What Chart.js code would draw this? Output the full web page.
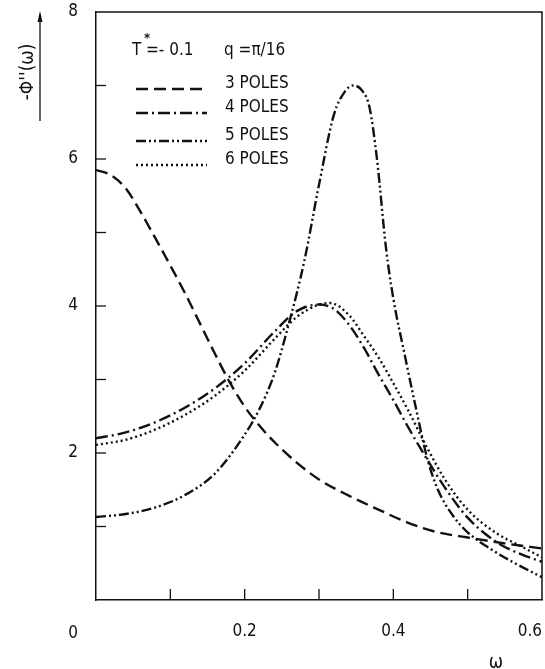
<!DOCTYPE html>
<html>
<head>
<meta charset="utf-8">
<script src="https://cdn.jsdelivr.net/npm/chart.js@4/dist/chart.umd.min.js"></script>
<style>
  html, body { margin: 0; padding: 0; background: #fff; }
</style>
</head>
<body>
<canvas id="chart" width="545" height="669"></canvas>
<script>
// curves (omega, -Phi''(omega))
const omega3 = [0, 0.02, 0.04, 0.06, 0.08, 0.10, 0.12, 0.14, 0.16, 0.18, 0.20, 0.22, 0.24, 0.27, 0.30, 0.34, 0.38, 0.42, 0.46, 0.50, 0.55, 0.60];
const poles3 = [5.85, 5.78, 5.60, 5.28, 4.92, 4.55, 4.17, 3.76, 3.35, 2.96, 2.63, 2.37, 2.15, 1.87, 1.64, 1.42, 1.23, 1.05, 0.92, 0.85, 0.77, 0.70];

const omega4 = [0, 0.04, 0.08, 0.12, 0.16, 0.20, 0.24, 0.27, 0.30, 0.32, 0.34, 0.36, 0.38, 0.40, 0.42, 0.445, 0.47, 0.50, 0.54, 0.57, 0.60];
const poles4 = [2.20, 2.28, 2.42, 2.62, 2.88, 3.22, 3.65, 3.93, 4.02, 3.96, 3.75, 3.44, 3.07, 2.72, 2.35, 1.92, 1.52, 1.12, 0.78, 0.63, 0.52];

const omega5 = [0, 0.04, 0.08, 0.12, 0.16, 0.20, 0.22, 0.24, 0.26, 0.28, 0.30, 0.32, 0.335, 0.346, 0.358, 0.368, 0.378, 0.39, 0.40, 0.415, 0.43, 0.445, 0.46, 0.48, 0.50, 0.53, 0.56, 0.60];
const poles5 = [1.13, 1.17, 1.26, 1.43, 1.72, 2.25, 2.60, 3.08, 3.78, 4.60, 5.65, 6.60, 6.92, 7.00, 6.93, 6.70, 6.00, 4.80, 4.10, 3.35, 2.63, 1.95, 1.50, 1.15, 0.92, 0.70, 0.52, 0.31];

const omega6 = [0, 0.04, 0.08, 0.12, 0.16, 0.20, 0.24, 0.27, 0.30, 0.315, 0.34, 0.36, 0.38, 0.40, 0.42, 0.445, 0.47, 0.50, 0.54, 0.57, 0.60];
const poles6 = [2.11, 2.18, 2.32, 2.52, 2.78, 3.12, 3.55, 3.85, 4.02, 4.04, 3.88, 3.60, 3.30, 2.95, 2.58, 2.08, 1.63, 1.23, 0.90, 0.74, 0.58];

const seriesNames = ["3 POLES", "4 POLES", "5 POLES", "6 POLES"];
const yLabels = [2, 4, 6, 8];
const xLabels = [0.2, 0.4, 0.6];

const FONT = "'DejaVu Sans Condensed', 'DejaVu Sans', sans-serif";
const INK = "#111";

const pts = (xs, ys) => xs.map((x, i) => ({ x: x, y: ys[i] }));

function serie(label, xs, ys, dash) {
    return {
        label: label,
        data: pts(xs, ys),
        borderColor: INK,
        borderWidth: 2.4,
        borderDash: dash,
        borderCapStyle: "butt",
        pointRadius: 0,
        fill: false,
        cubicInterpolationMode: "monotone"
    };
}

// frame, inner ticks, legend, axis texts
const decor = {
    id: "decor",
    afterDraw(chart) {
        const { ctx, chartArea: a } = chart;
        const xs = chart.scales.x, ys = chart.scales.y;
        ctx.save();
        ctx.strokeStyle = INK;
        ctx.lineWidth = 1.5;
        ctx.setLineDash([]);
        ctx.beginPath();
        ctx.moveTo(a.left, a.top);
        ctx.lineTo(a.right, a.top);
        ctx.lineTo(a.right, a.bottom);
        ctx.stroke();

        // ticks pointing inwards
        ctx.lineWidth = 1.3;
        ys.ticks.forEach(t => {
            if (t.value <= 0 || t.value >= 8) return;
            const y = ys.getPixelForValue(t.value);
            ctx.beginPath(); ctx.moveTo(a.left, y); ctx.lineTo(a.left + 10, y); ctx.stroke();
        });
        xs.ticks.forEach(t => {
            if (t.value <= 0.001 || t.value >= 0.599) return;
            const x = xs.getPixelForValue(t.value);
            ctx.beginPath(); ctx.moveTo(x, a.bottom); ctx.lineTo(x, a.bottom - 11); ctx.stroke();
        });

        ctx.fillStyle = INK;
        ctx.textBaseline = "alphabetic";

        // origin and omega
        ctx.textAlign = "center";
        ctx.font = "17px " + FONT;
        ctx.fillText("0", 73, 638);
        ctx.font = "19px " + FONT;
        ctx.fillText("ω", 496, 668);

        // y title and arrow
        ctx.save();
        ctx.translate(33, 72);
        ctx.rotate(-Math.PI / 2);
        ctx.font = "19px " + FONT;
        ctx.textAlign = "center";
        ctx.fillText("-Φ''(ω)", 0, 0);
        ctx.restore();
        ctx.lineWidth = 1.3;
        ctx.beginPath(); ctx.moveTo(40, 121); ctx.lineTo(40, 14); ctx.stroke();
        ctx.beginPath(); ctx.moveTo(40, 11); ctx.lineTo(37.5, 22); ctx.lineTo(42.5, 22); ctx.closePath(); ctx.fill();

        // parameters
        ctx.font = "17px " + FONT;
        ctx.textAlign = "left";
        ctx.fillText("T", 132, 55);
        ctx.font = "bold 13px " + FONT;
        ctx.fillText("*", 144, 42);
        ctx.font = "17px " + FONT;
        ctx.fillText("=- 0.1", 146, 55);
        ctx.fillText("q =π/16", 224, 55);

        // legend
        const rows = [89, 113, 141, 165];
        chart.data.datasets.forEach((ds, i) => {
            ctx.lineWidth = ds.borderWidth;
            ctx.setLineDash(ds.borderDash);
            ctx.beginPath();
            ctx.moveTo(136, rows[i]);
            ctx.lineTo(207, rows[i]);
            ctx.stroke();
            ctx.setLineDash([]);
            ctx.fillText(ds.label, 225, rows[i] - 1);
        });
        ctx.restore();
    }
};

// the scales reserve room for edge labels; the original lets them overhang
function noEdgePadding(scale) {
    scale.paddingLeft = 0;
    scale.paddingRight = 0;
    scale.paddingTop = 0;
    scale.paddingBottom = 0;
}

const ctx = document.getElementById("chart").getContext("2d");

const chart = new Chart(ctx, {
    type: "line",
    data: {
        datasets: [
            serie(seriesNames[0], omega3, poles3, [12, 6]),
            serie(seriesNames[1], omega4, poles4, [12, 4, 2, 4]),
            serie(seriesNames[2], omega5, poles5, [10, 3, 2, 3, 2, 3]),
            serie(seriesNames[3], omega6, poles6, [2, 3])
        ]
    },
    options: {
        responsive: false,
        animation: false,
        layout: { padding: { left: 60, right: 3, top: 12, bottom: 28 } },
        plugins: {
            legend: { display: false },
            tooltip: { enabled: false }
        },
        scales: {
            x: {
                type: "linear",
                min: 0,
                max: 0.6,
                afterFit: noEdgePadding,
                grid: { display: false, drawTicks: false },
                border: { display: true, color: INK, width: 1.5 },
                ticks: {
                    stepSize: 0.1,
                    autoSkip: false,
                    maxRotation: 0,
                    align: "inner",
                    padding: 21,
                    color: INK,
                    font: { family: FONT, size: 17 },
                    callback: v => {
                        const r = Math.round(v * 10) / 10;
                        return xLabels.includes(r) ? r.toFixed(1) : "";
                    }
                }
            },
            y: {
                min: 0,
                max: 8,
                afterFit: noEdgePadding,
                grid: { display: false, drawTicks: false },
                border: { display: true, color: INK, width: 1.5 },
                ticks: {
                    stepSize: 1,
                    autoSkip: false,
                    padding: 18,
                    color: INK,
                    font: { family: FONT, size: 17 },
                    callback: v => yLabels.includes(v) ? String(v) : ""
                }
            }
        }
    },
    plugins: [decor]
});

// pin the plot frame to where it sits in the original figure
const frame = { left: 96, right: 542, top: 12, bottom: 600 };
for (let k = 0; k < 3; k++) {
    const a = chart.chartArea, p = chart.options.layout.padding;
    p.left += frame.left - a.left;
    p.top += frame.top - a.top;
    p.right += a.right - frame.right;
    p.bottom += a.bottom - frame.bottom;
    chart.update();
}
</script>
</body>
</html>
